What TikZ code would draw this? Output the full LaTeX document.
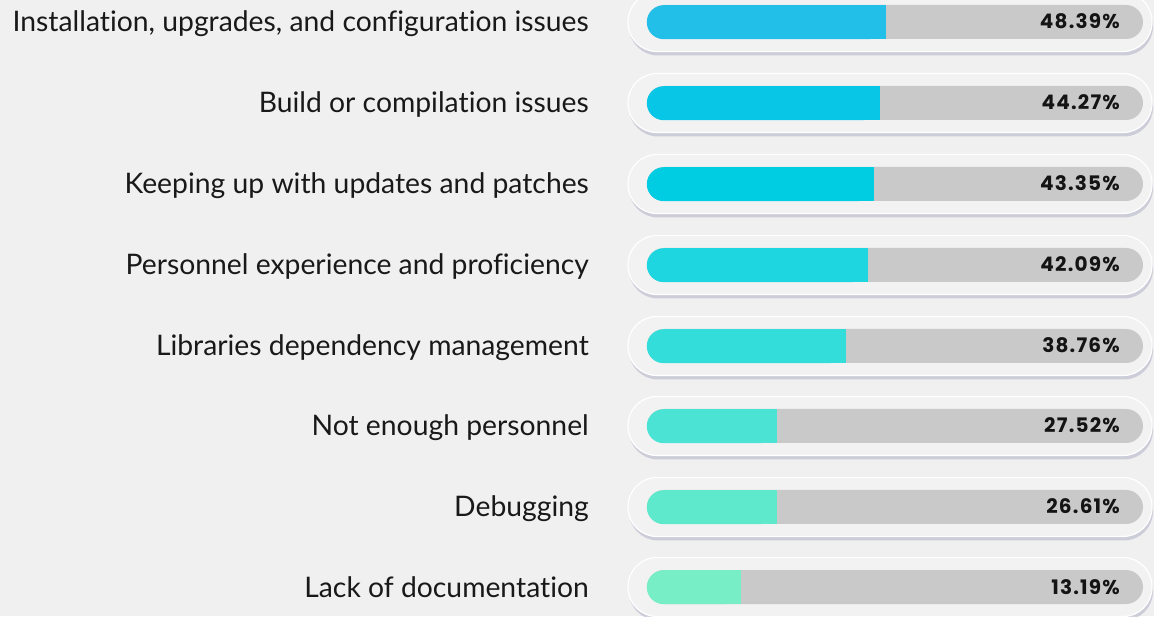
\documentclass[tikz,border=0pt]{standalone}
\usepackage{fontspec}
\setmainfont{Lato}[Ligatures=NoCommon]
\newfontfamily\valfont{Poppins}[LetterSpace=6]
\usetikzlibrary{shadows}

\definecolor{bgcol}{HTML}{F0F0F0}
\definecolor{cardcol}{HTML}{F2F2F3}
\definecolor{trackcol}{HTML}{C9C9C9}
\definecolor{fillA}{HTML}{22C0E8}
\definecolor{fillB}{HTML}{08C6E6}
\definecolor{fillC}{HTML}{00CCE2}
\definecolor{fillD}{HTML}{1DD6E0}
\definecolor{fillE}{HTML}{33DDD9}
\definecolor{fillF}{HTML}{4AE3D4}
\definecolor{fillG}{HTML}{5EE9CC}
\definecolor{fillH}{HTML}{77EEC5}
\definecolor{shadecol}{HTML}{B4B6C8}

\begin{document}
\begin{tikzpicture} [x=1pt, y=1pt,
  lab/.style={anchor=base east, inner sep=0pt, text=black!90, font=\fontsize{28.3}{32}\selectfont},
  val/.style={anchor=base east, inner sep=0pt, text=black!92, font=\valfont\bfseries\fontsize{20}{24}\selectfont},
  card/.style={draw=white, line width=1.2pt, fill=cardcol, rounded corners=29pt,
    minimum width=524pt, minimum height=59pt, inner sep=0pt,
    drop shadow={fill=shadecol, opacity=0.6, shadow xshift=1pt, shadow yshift=-4pt}},
  track/.style={fill=trackcol, rounded corners=17pt, minimum width=496pt, minimum height=34pt, inner sep=0pt}]

\fill[bgcol] (0,0) rectangle (1154,616);
\useasboundingbox (0,0) rectangle (1154,616);

% cards and tracks
\node[card] (c1) at (890,594) {};
\node[card] (c2) at (890,513) {};
\node[card] (c3) at (890,432) {};
\node[card] (c4) at (890,351) {};
\node[card] (c5) at (890,270) {};
\node[card] (c6) at (890,190) {};
\node[card] (c7) at (890,109) {};
\node[card] (c8) at (890,29) {};

\node[track] (t1) at (895,594) {};
\node[track] (t2) at (895,513) {};
\node[track] (t3) at (895,432) {};
\node[track] (t4) at (895,351) {};
\node[track] (t5) at (895,270) {};
\node[track] (t6) at (895,190) {};
\node[track] (t7) at (895,109) {};
\node[track] (t8) at (895,29) {};

% filled parts
\fill[fillA, rounded corners=17pt] (t1.south west) rectangle ++(239,34);
\fill[fillA] (t1.south west) ++(222,0) rectangle ++(17,34);
\fill[fillB, rounded corners=17pt] (t2.south west) rectangle ++(233,34);
\fill[fillB] (t2.south west) ++(216,0) rectangle ++(17,34);
\fill[fillC, rounded corners=17pt] (t3.south west) rectangle ++(227,34);
\fill[fillC] (t3.south west) ++(210,0) rectangle ++(17,34);
\fill[fillD, rounded corners=17pt] (t4.south west) rectangle ++(221,34);
\fill[fillD] (t4.south west) ++(204,0) rectangle ++(17,34);
\fill[fillE, rounded corners=17pt] (t5.south west) rectangle ++(199,34);
\fill[fillE] (t5.south west) ++(182,0) rectangle ++(17,34);
\fill[fillF, rounded corners=17pt] (t6.south west) rectangle ++(130,34);
\fill[fillF] (t6.south west) ++(113,0) rectangle ++(17,34);
\fill[fillG, rounded corners=17pt] (t7.south west) rectangle ++(130,34);
\fill[fillG] (t7.south west) ++(113,0) rectangle ++(17,34);
\fill[fillH, rounded corners=17pt] (t8.south west) rectangle ++(94,34);
\fill[fillH] (t8.south west) ++(77,0) rectangle ++(17,34);

% labels
\node[lab] (l1) at (589,584) {Installation, upgrades, and configuration issues};
\node[lab] (l2) at (589,503) {Build or compilation issues};
\node[lab] (l3) at (589,422) {Keeping up with updates and patches};
\node[lab] (l4) at (589,341) {Personnel experience and proficiency};
\node[lab] (l5) at (589,260) {Libraries dependency management};
\node[lab] (l6) at (589,180) {Not enough personnel};
\node[lab] (l7) at (589,99) {Debugging};
\node[lab] (l8) at (589,19) {Lack of documentation};

% values
\node[val] (v1) at (1120,587) {48.39\%};
\node[val] (v2) at (1120,506) {44.27\%};
\node[val] (v3) at (1120,425) {43.35\%};
\node[val] (v4) at (1120,344) {42.09\%};
\node[val] (v5) at (1120,263) {38.76\%};
\node[val] (v6) at (1120,183) {27.52\%};
\node[val] (v7) at (1120,102) {26.61\%};
\node[val] (v8) at (1120,22) {13.19\%};

\end{tikzpicture}
\end{document}
